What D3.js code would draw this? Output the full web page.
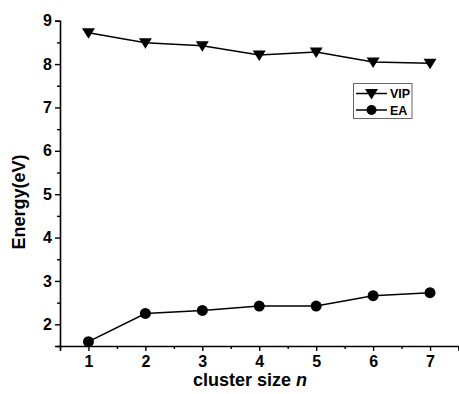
<!DOCTYPE html>
<html><head><meta charset="utf-8">
<script src="https://cdn.jsdelivr.net/npm/d3@7"></script>
<style>body{margin:0;background:#fff}svg{display:block}text{font-family:Arial,"Liberation Sans",sans-serif;font-weight:bold;fill:#000}</style>
</head><body><svg id="c" width="459" height="394"></svg>
<script>
const sizes = [1,2,3,4,5,6,7];
const vip = [8.72,8.49,8.42,8.21,8.28,8.05,8.02];
const ea = [1.60,2.25,2.32,2.42,2.42,2.66,2.73];
const xTicks = [1,2,3,4,5,6,7];
const yTicks = [2,3,4,5,6,7,8,9];

const svg = d3.select("#c");
const L=60, R=458.5, T=20.7, B=346;
const x = d3.scaleLinear().domain([0.5,7.5]).range([L,R]);
const y = d3.scaleLinear().domain([1.5,9]).range([B,T]);

const xa = svg.append("g").attr("transform",`translate(0,${B})`)
  .call(d3.axisBottom(x).tickValues(xTicks).tickSize(5).tickPadding(5).tickFormat(d3.format("d")));
const xm = svg.append("g").attr("transform",`translate(0,${B})`)
  .call(d3.axisBottom(x).tickValues(d3.range(0.5,7.6,1)).tickSize(3).tickFormat(""));
const ya = svg.append("g").attr("transform",`translate(${L},0)`)
  .call(d3.axisLeft(y).tickValues(yTicks).tickSize(5).tickPadding(3).tickFormat(d3.format("d")));
const ym = svg.append("g").attr("transform",`translate(${L},0)`)
  .call(d3.axisLeft(y).tickValues(d3.range(1.5,9,1)).tickSize(3).tickFormat(""));
[xa,xm,ya,ym].forEach(g=>{
  g.selectAll("path.domain").attr("stroke","#000").attr("stroke-width",1.6);
  g.selectAll(".tick line").attr("stroke","#000").attr("stroke-width",1.4);
  g.selectAll("text").attr("font-size",16).attr("font-weight","bold").attr("fill","#000")
   .attr("font-family","Arial, 'Liberation Sans', sans-serif");
});
xm.select("path.domain").remove(); ym.select("path.domain").remove();

const line = d3.line().x((d,i)=>x(sizes[i])).y(d=>y(d));
svg.append("path").datum(vip).attr("d",line).attr("fill","none").attr("stroke","#000").attr("stroke-width",1.5);
svg.append("path").datum(ea).attr("d",line).attr("fill","none").attr("stroke","#000").attr("stroke-width",1.5);

const tri = "M-6.5,-4.5 L6.5,-4.5 L0,6 Z";
svg.append("g").selectAll("path").data(vip).join("path")
  .attr("d",tri).attr("transform",(d,i)=>`translate(${x(sizes[i])},${y(d)})`).attr("fill","#000");
svg.append("g").selectAll("circle").data(ea).join("circle")
  .attr("cx",(d,i)=>x(sizes[i])).attr("cy",d=>y(d)).attr("r",5.5).attr("fill","#000");

const lg = svg.append("g");
lg.append("rect").attr("x",353.5).attr("y",83.5).attr("width",58.5).attr("height",35)
  .attr("fill","#fff").attr("stroke","#666").attr("stroke-width",1);
const names = ["VIP","EA"];
names.forEach((n,i)=>{
  const yy = 93.5 + i*16.5;
  lg.append("line").attr("x1",356).attr("x2",387).attr("y1",yy).attr("y2",yy).attr("stroke","#000").attr("stroke-width",1.5);
  if(i===0) lg.append("path").attr("d",tri).attr("transform",`translate(371.5,${yy})`).attr("fill","#000");
  else lg.append("circle").attr("cx",371.5).attr("cy",yy).attr("r",5).attr("fill","#000");
  lg.append("text").attr("x",390).attr("y",yy+4.5).attr("font-size",12.5).text(n);
});

svg.append("text").attr("x",250).attr("y",386).attr("text-anchor","middle").attr("font-size",18)
  .html('cluster size <tspan font-style="italic">n</tspan>');
svg.append("text").attr("transform","translate(25,202) rotate(-90)").attr("text-anchor","middle")
  .attr("font-size",18).text("Energy(eV)");
</script></body></html>
